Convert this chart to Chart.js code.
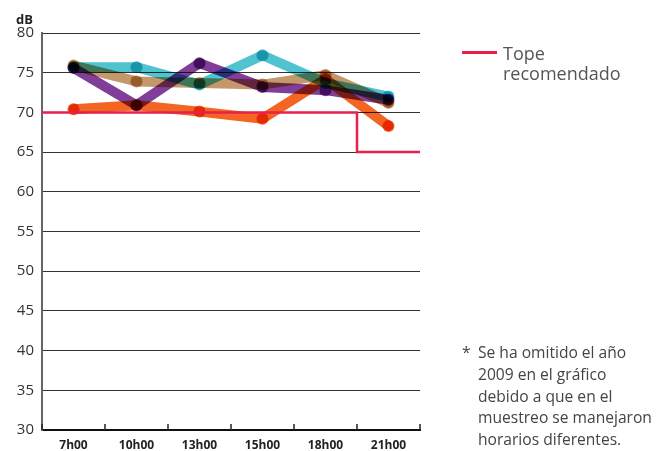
<!DOCTYPE html>
<html>
<head>
<meta charset="utf-8">
<script src="https://cdn.jsdelivr.net/npm/chart.js@4"></script>
<style>
  body{margin:0;background:#fff;font-family:"Open Sans",sans-serif;}
  #wrap{position:relative;width:657px;height:451px;}
  #c{position:absolute;left:0;top:0;}
  .db{position:absolute;left:16px;top:10px;font-weight:bold;font-size:13px;color:#222;}
  .leg{position:absolute;left:462px;top:43px;}
  .leg .ln{position:absolute;left:0;top:8px;width:35px;height:2.5px;background:#e8214a;}
  .leg .tx{position:absolute;left:41px;top:0;font-size:18px;line-height:20px;color:#555;white-space:nowrap;}
  .nota{position:absolute;left:462px;top:342px;font-size:15.6px;line-height:21.8px;color:#444;}
  .nota .st{position:absolute;left:0;top:0;}
  .nota .tx{position:absolute;left:16px;top:0;white-space:nowrap;}
</style>
</head>
<body>
<div id="wrap">
  <canvas id="c" width="657" height="451"></canvas>
  <div class="db">dB</div>
  <div class="leg"><div class="ln"></div><div class="tx">Tope<br>recomendado</div></div>
  <div class="nota"><span class="st">*</span><div class="tx">Se ha omitido el año<br>2009 en el gráfico<br>debido a que en el<br>muestreo se manejaron<br>horarios diferentes.</div></div>
</div>
<script>
// horas de muestreo
var horas=["7h00","10h00","13h00","15h00","18h00","21h00"]

// niveles de ruido (dB) por serie
var serieNaranja=[70.4,70.9,70.1,69.2,74.2,68.3]
var serieCian=[75.7,75.7,73.5,77.2,73.7,72.0]
var serieCafe=[75.9,73.9,73.7,73.5,74.7,71.2]
var serieMorada=[75.6,70.9,76.2,73.2,72.8,71.6]

// tope recomendado (escalon entre 18h00 y 21h00)
var topeX=[0,5,5,6]
var topeY=[70,70,65,65]

var ticksY=[30,35,40,45,50,55,60,65,70,75,80]

var colores=["rgb(243,101,35)","rgb(80,195,208)","rgb(196,152,106)","rgb(128,62,152)"]

// las lineas se mezclan en modo multiply como en el original
const mezcla = {
  id:'mezcla',
  beforeDatasetDraw:(chart,args)=>{
    chart.ctx.save()
    if(args.index>0) chart.ctx.globalCompositeOperation='multiply'
  },
  afterDatasetDraw:(chart)=>{ chart.ctx.restore() }
}

// marcas cortas hacia arriba sobre el eje x
const marcas = {
  id:'marcas',
  afterDraw:(chart)=>{
    const ctx=chart.ctx, x=chart.scales.x, a=chart.chartArea
    const paso=x.getPixelForValue(1)-x.getPixelForValue(0)
    ctx.save()
    ctx.strokeStyle='#222'
    ctx.lineWidth=1.5
    for(var i=0;i<=horas.length;i++){
      var px=x.getPixelForValue(0)-paso/2+i*paso
      ctx.beginPath()
      ctx.moveTo(px,a.bottom)
      ctx.lineTo(px,a.bottom-6)
      ctx.stroke()
    }
    ctx.restore()
  }
}

function serie(datos,color){
  return {
    data:datos,
    borderColor:color,
    backgroundColor:color,
    borderWidth:10,
    borderCapStyle:'round',
    borderJoinStyle:'round',
    pointRadius:6,
    pointBorderWidth:0,
    pointHoverRadius:6,
    tension:0,
    xAxisID:'x'
  }
}

var puntosTope=topeX.map(function(v,i){return {x:v,y:topeY[i]}})

new Chart(document.getElementById('c'),{
  type:'line',
  data:{
    labels:horas,
    datasets:[
      {data:puntosTope,xAxisID:'x2',borderColor:'#e8214a',borderWidth:2.5,pointRadius:0,tension:0,fill:false},
      serie(serieNaranja,colores[0]),
      serie(serieCian,colores[1]),
      serie(serieCafe,colores[2]),
      serie(serieMorada,colores[3])
    ]
  },
  options:{
    responsive:false,
    animation:false,
    devicePixelRatio:1,
    layout:{padding:{left:0,right:237,top:33,bottom:0}},
    plugins:{legend:{display:false},tooltip:{enabled:false}},
    scales:{
      x:{
        type:'category',
        offset:true,
        afterFit:function(s){s.height=21},
        grid:{display:false,drawTicks:false},
        border:{display:true,color:'#111',width:2},
        ticks:{color:'#222',padding:8,font:{family:'Open Sans',size:12,weight:'bold'}}
      },
      x2:{type:'linear',min:0,max:6,display:false},
      y:{
        min:30,max:80,
        afterFit:function(s){s.width=42},
        afterBuildTicks:function(s){s.ticks=ticksY.map(function(v){return {value:v}})},
        grid:{color:'#333',lineWidth:1,drawTicks:false},
        border:{display:true,color:'#666',width:2},
        ticks:{color:'#333',padding:8,font:{family:'Open Sans',size:15}}
      }
    }
  },
  plugins:[mezcla,marcas]
})
</script>
</body>
</html>
